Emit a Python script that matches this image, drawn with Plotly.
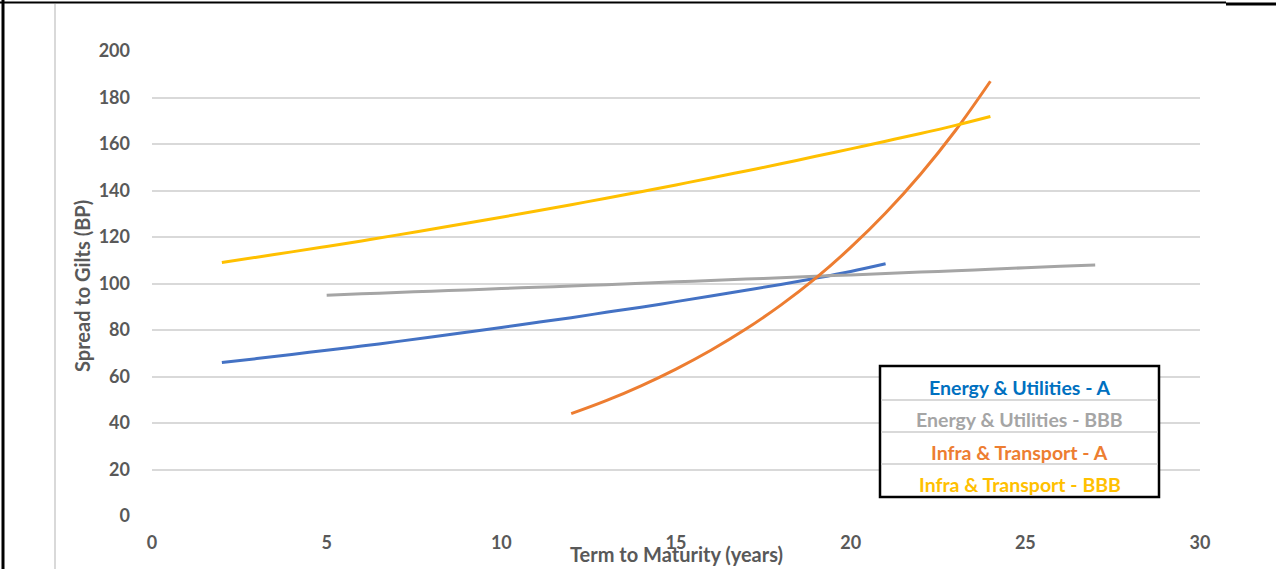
import plotly.graph_objects as go

# ---- data ----
eu_a_x = [2, 3, 4, 5, 6, 7, 8, 9, 10, 11, 12, 13, 14, 15, 16, 17, 18, 19, 20, 21]
eu_a_y = [66.0, 67.7, 69.5, 71.3, 73.1, 75.0, 77.0, 79.0, 81.1, 83.2, 85.3, 87.6,
          89.8, 92.2, 94.6, 97.1, 99.6, 102.3, 105.2, 108.5]

eu_bbb_x = [5, 6, 7, 8, 9, 10, 11, 12, 13, 14, 15, 16, 17, 18, 19, 20, 21, 22, 23, 24, 25, 26, 27]
eu_bbb_y = [95.0, 95.6, 96.1, 96.7, 97.2, 97.8, 98.4, 98.9, 99.5, 100.1, 100.7, 101.3,
            101.9, 102.5, 103.1, 103.7, 104.3, 104.9, 105.5, 106.1, 106.8, 107.4, 108.0]

it_a_x = [12, 13, 14, 15, 16, 17, 18, 19, 20, 21, 22, 23, 24]
it_a_y = [44.0, 49.6, 56.0, 63.2, 71.3, 80.4, 90.7, 102.3, 115.5, 130.3, 147.0, 165.8, 187.0]

it_bbb_x = [2, 3, 4, 5, 6, 7, 8, 9, 10, 11, 12, 13, 14, 15, 16, 17, 18, 19, 20, 21, 22, 23, 24]
it_bbb_y = [109.0, 111.3, 113.6, 115.9, 118.3, 120.8, 123.3, 125.9, 128.5, 131.2, 133.9,
            136.7, 139.5, 142.4, 145.4, 148.4, 151.5, 154.7, 157.9, 161.2, 164.5, 168.0, 171.8]

series_names = ["Energy & Utilities - A", "Energy & Utilities - BBB",
                "Infra & Transport - A", "Infra & Transport - BBB"]
line_colors = ["#4472C4", "#A5A5A5", "#ED7D31", "#FFC000"]
legend_text_colors = ["#0070C0", "#A5A5A5", "#ED7D31", "#FFC000"]

x_ticks = [0, 5, 10, 15, 20, 25, 30]
y_ticks = [0, 20, 40, 60, 80, 100, 120, 140, 160, 180, 200]
x_title = "Term to Maturity (years)"
y_title = "Spread to Gilts (BP)"

FONT = "Lato, 'Open Sans', sans-serif"

fig = go.Figure()
for xs, ys, name, col in zip([eu_a_x, eu_bbb_x, it_a_x, it_bbb_x],
                             [eu_a_y, eu_bbb_y, it_a_y, it_bbb_y],
                             series_names, line_colors):
    fig.add_trace(go.Scatter(x=xs, y=ys, mode="lines", name=name,
                             line=dict(color=col, width=3, shape="spline"),
                             showlegend=False))

# Plot area geometry in pixels: left 152, right 1200, top 51, bottom 516
L, R, T, B = 152, 1200, 51, 516
W, H = 1276, 569
def px(xp):
    return (xp - L) / (R - L)
def py(yp):
    return (B - yp) / (B - T)

shapes = []
# outer frame (black) and light gray inner edge
shapes.append(dict(type="line", xref="paper", yref="paper", x0=px(3), x1=px(3), y0=py(0), y1=py(569),
                   line=dict(color="black", width=3), layer="above"))
shapes.append(dict(type="line", xref="paper", yref="paper", x0=px(0), x1=px(1226), y0=py(2.5), y1=py(2.5),
                   line=dict(color="black", width=2), layer="above"))
shapes.append(dict(type="line", xref="paper", yref="paper", x0=px(1226), x1=px(1276), y0=py(4), y1=py(4),
                   line=dict(color="black", width=3), layer="above"))
shapes.append(dict(type="line", xref="paper", yref="paper", x0=px(55), x1=px(55), y0=py(4), y1=py(569),
                   line=dict(color="#D9D9D9", width=2), layer="above"))

# legend table box
bx0, bx1, by0, by1 = 880, 1159, 366, 497
shapes.append(dict(type="rect", xref="paper", yref="paper", x0=px(bx0), x1=px(bx1), y0=py(by1), y1=py(by0),
                   fillcolor="white", line=dict(color="black", width=2.5), layer="above"))
for sy in [400, 432, 464]:
    shapes.append(dict(type="line", xref="paper", yref="paper", x0=px(bx0 + 1.5), x1=px(bx1 - 1.5),
                       y0=py(sy), y1=py(sy), line=dict(color="#D9D9D9", width=2), layer="above"))

annotations = []
row_y = [387, 419.5, 452, 484]
for name, col, ry in zip(series_names, legend_text_colors, row_y):
    annotations.append(dict(text=name, xref="paper", yref="paper", x=px((bx0 + bx1) / 2), y=py(ry),
                            xanchor="center", yanchor="middle", showarrow=False,
                            font=dict(family=FONT, size=19.5, color=col, weight="bold")))
annotations.append(dict(text=x_title, xref="paper", yref="paper", x=px(676), y=py(554),
                        xanchor="center", yanchor="middle", showarrow=False,
                        font=dict(family=FONT, size=20, color="#595959", weight="bold")))
annotations.append(dict(text=y_title, xref="paper", yref="paper", x=px(82), y=py(286),
                        xanchor="center", yanchor="middle", showarrow=False, textangle=-90,
                        font=dict(family=FONT, size=20, color="#595959", weight="bold")))

fig.update_layout(
    width=W, height=H,
    margin=dict(l=L, r=W - R, t=T, b=H - B, pad=0),
    paper_bgcolor="white", plot_bgcolor="white",
    font=dict(family=FONT, color="#595959"),
    shapes=shapes, annotations=annotations,
    showlegend=False,
)
fig.update_xaxes(range=[0, 30], tickvals=x_ticks, showgrid=False, zeroline=False, showline=False,
                 ticks="", ticklabelstandoff=14,
                 tickfont=dict(family=FONT, size=18, color="#595959", weight="bold"))
fig.update_yaxes(range=[0, 200], tickvals=y_ticks, showgrid=True, gridcolor="#D9D9D9", gridwidth=1.5,
                 zeroline=False, showline=False, ticks="", ticklabelstandoff=21,
                 tickfont=dict(family=FONT, size=18, color="#595959", weight="bold"))

fig.write_html("out.html", config={"displayModeBar": False},
               post_script="document.body.style.margin='0';document.body.style.overflow='hidden';")
